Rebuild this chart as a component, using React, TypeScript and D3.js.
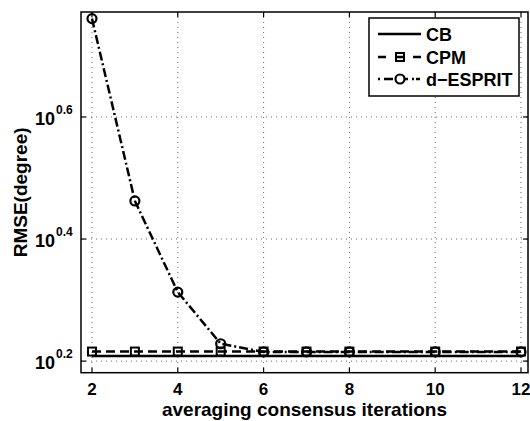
import React from "react";
import * as d3 from "d3";

const iterations = [2, 3, 4, 5, 6, 7, 8, 10, 12];
const cbValues = [1.615, 1.615, 1.615, 1.615, 1.615, 1.615, 1.615, 1.615, 1.615];
const cpmValues = [1.643, 1.643, 1.643, 1.643, 1.643, 1.643, 1.643, 1.643, 1.643];
const espritValues = [5.77, 2.9, 2.056, 1.692, 1.641, 1.641, 1.641, 1.641, 1.641];
const xTicks = [2, 4, 6, 8, 10, 12];
const yTickExps = [0.2, 0.4, 0.6];
const seriesNames = ["CB", "CPM", "d\u2212ESPRIT"];

const W = 530, H = 421;
const left = 81, right = 528, top = 12, bottom = 372.7;
const FONT = "'Liberation Sans', Arial, Helvetica, sans-serif";

export default function App() {
  const x = d3.scaleLinear().domain([1.744, 12.163]).range([left, right]);
  const y = d3.scaleLog().domain([Math.pow(10, 0.181), Math.pow(10, 0.772)]).range([bottom, top]);
  const line = d3.line<number>().x((_, i) => x(iterations[i])).y((v) => y(v));

  const espritDash = "9,3,2,3";
  const cpmDash = "9,5";

  return (
    <svg width={W} height={H} style={{ position: "absolute", left: 0, top: 0, background: "#fff" }}>
      <rect x={0} y={0} width={W} height={H} fill="#fff" />
      {/* grid */}
      {xTicks.map((t) => (
        <line key={"gx" + t} x1={x(t)} x2={x(t)} y1={top} y2={bottom} stroke="#444" strokeWidth={0.8} strokeDasharray="1,4" />
      ))}
      {yTickExps.map((e) => (
        <line key={"gy" + e} x1={left} x2={right} y1={y(Math.pow(10, e))} y2={y(Math.pow(10, e))} stroke="#444" strokeWidth={0.8} strokeDasharray="1,4" />
      ))}
      {/* series */}
      <path d={line(cbValues) || ""} fill="none" stroke="#000" strokeWidth={2.5} />
      <path d={line(cpmValues) || ""} fill="none" stroke="#000" strokeWidth={2.5} strokeDasharray={cpmDash} />
      {cpmValues.map((v, i) => (
        <rect key={"sq" + i} x={x(iterations[i]) - 4} y={y(v) - 4} width={8} height={8} fill="none" stroke="#000" strokeWidth={2} />
      ))}
      <path d={line(espritValues) || ""} fill="none" stroke="#000" strokeWidth={2.5} strokeDasharray={espritDash} />
      {espritValues.map((v, i) => (
        <circle key={"c" + i} cx={x(iterations[i])} cy={y(v)} r={4.5} fill="none" stroke="#000" strokeWidth={2.2} />
      ))}
      {/* axes box */}
      <rect x={left} y={top} width={right - left} height={bottom - top} fill="none" stroke="#000" strokeWidth={1.5} />
      {xTicks.map((t) => (
        <g key={"tx" + t}>
          <line x1={x(t)} x2={x(t)} y1={bottom} y2={bottom - 5} stroke="#000" strokeWidth={1.2} />
          <line x1={x(t)} x2={x(t)} y1={top} y2={top + 5} stroke="#000" strokeWidth={1.2} />
          <text x={x(t)} y={395} textAnchor="middle" fontFamily={FONT} fontSize="17px" fontWeight="bold">{t}</text>
        </g>
      ))}
      {yTickExps.map((e) => {
        const yy = y(Math.pow(10, e));
        return (
          <g key={"ty" + e}>
            <line x1={left} x2={left + 5} y1={yy} y2={yy} stroke="#000" strokeWidth={1.2} />
            <line x1={right} x2={right - 5} y1={yy} y2={yy} stroke="#000" strokeWidth={1.2} />
            <text x={55} y={yy + 8} textAnchor="end" fontFamily={FONT} fontSize="18px" fontWeight="bold">10</text>
            <text x={56} y={yy - 3} fontFamily={FONT} fontSize="12px" fontWeight="bold">{e.toFixed(1)}</text>
          </g>
        );
      })}
      {/* axis labels */}
      <text x={(left + right) / 2} y={416} textAnchor="middle" fontFamily={FONT} fontSize="19px" fontWeight="bold">averaging consensus iterations</text>
      <text transform={`translate(27,${(top + bottom) / 2}) rotate(-90)`} textAnchor="middle" fontFamily={FONT} fontSize="19px" fontWeight="bold">RMSE(degree)</text>
      {/* legend */}
      <rect x={369} y={18} width={150} height={78} fill="#fff" stroke="#000" strokeWidth={1.5} />
      <line x1={378} x2={421} y1={34} y2={34} stroke="#000" strokeWidth={2.5} />
      <line x1={378} x2={421} y1={57} y2={57} stroke="#000" strokeWidth={2.5} strokeDasharray="8,9.5,8,9.5,8" />
      <rect x={396} y={53} width={8} height={8} fill="none" stroke="#000" strokeWidth={2} />
      <line x1={378} x2={421} y1={79} y2={79} stroke="#000" strokeWidth={2.5} strokeDasharray="2,4,9,3,0,3,9,4,2" />
      <circle cx={400} cy={79} r={4.5} fill="#fff" stroke="#000" strokeWidth={2.2} />
      {seriesNames.map((n, i) => (
        <text key={n} x={426} y={[34, 57, 79][i] + 6.5} fontFamily={FONT} fontSize="18px" fontWeight="bold">{n}</text>
      ))}
    </svg>
  );
}
